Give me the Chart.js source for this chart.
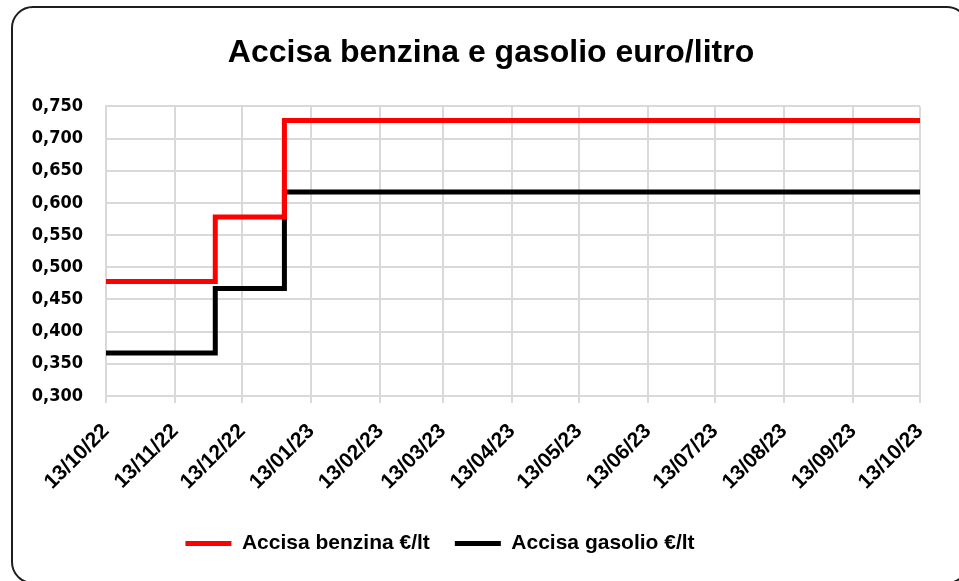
<!DOCTYPE html>
<html>
<head>
<meta charset="utf-8">
<script src="https://cdn.jsdelivr.net/npm/chart.js@4.4.1/dist/chart.umd.min.js"></script>
<style>
    html, body { margin: 0; padding: 0; background: #fff; overflow: hidden; }
    #wrap { position: relative; width: 959px; height: 581px; overflow: hidden; }
    #frame {
        position: absolute; left: 11px; top: 6px; width: 958px; height: 578px;
        border: 2px solid #1e1e1e; border-radius: 22px; box-sizing: border-box;
    }
    #chart { position: absolute; left: 0; top: 0; }
</style>
</head>
<body>
<div id="wrap">
    <div id="frame"></div>
    <canvas id="chart" width="959" height="581"></canvas>
</div>
<script>
// x axis tick labels (13th of every month)
const tickLabels = ['13/10/22', '13/11/22', '13/12/22', '13/01/23', '13/02/23', '13/03/23', '13/04/23',
    '13/05/23', '13/06/23', '13/07/23', '13/08/23', '13/09/23', '13/10/23'];
// dates where the excise changes (plus start and end)
const stepDates = ['13/10/22', '01/12/22', '01/01/23', '13/10/23'];
const benzina = [0.478, 0.578, 0.728, 0.728];
const gasolio = [0.367, 0.467, 0.617, 0.617];

const dayNum = s => {
    const [d, m, y] = s.split('/').map(Number);
    return Date.UTC(2000 + y, m - 1, d) / 86400000;
};
const toPoints = vals => stepDates.map((d, i) => ({ x: dayNum(d), y: vals[i] }));

const bold = (size, family) => ({ family: family || '"Liberation Sans", Arial, sans-serif', size: size, weight: 'bold' });
const gridColor = '#d9d9d9';

// title is centred on the whole frame, legend sits a bit left of centre
const shiftBoxes = {
    id: 'shiftBoxes',
    afterLayout(chart) {
        const move = (box, dx) => { if (box) { box.left += dx; box.right += dx; } };
        move(chart.titleBlock, 21);
        move(chart.legend, -30);
    }
};

new Chart(document.getElementById('chart'), {
    type: 'line',
    data: {
        datasets: [
            { label: 'Accisa benzina €/lt', data: toPoints(benzina), borderColor: '#ff0000', backgroundColor: '#ff0000',
              borderWidth: 5, stepped: true, pointRadius: 0, borderCapStyle: 'round' },
            { label: 'Accisa gasolio €/lt', data: toPoints(gasolio), borderColor: '#000000', backgroundColor: '#000000',
              borderWidth: 5, stepped: true, pointRadius: 0, borderCapStyle: 'round' }
        ]
    },
    options: {
        responsive: false,
        animation: false,
        layout: { padding: { left: 20, right: 39, top: 20, bottom: 17 } },
        plugins: {
            title: {
                display: true, text: 'Accisa benzina e gasolio euro/litro', color: '#000',
                font: bold(32), padding: { top: 14, bottom: 34 }
            },
            legend: {
                position: 'bottom',
                labels: { color: '#000', font: bold(21), usePointStyle: true, pointStyle: 'line',
                          pointStyleWidth: 46, padding: 25 }
            },
            tooltip: { enabled: false }
        },
        scales: {
            x: {
                type: 'linear',
                min: dayNum(tickLabels[0]),
                max: dayNum(tickLabels[tickLabels.length - 1]),
                afterBuildTicks: s => { s.ticks = tickLabels.map(t => ({ value: dayNum(t) })); },
                afterFit: s => { s.height = 112; s.paddingLeft = 0; s.paddingRight = 0; },
                grid: { color: gridColor, lineWidth: 2, tickLength: 7 },
                border: { color: gridColor, width: 2 },
                ticks: {
                    autoSkip: false, maxRotation: 45, minRotation: 45, padding: 16, color: '#000', font: bold(21),
                    callback: v => tickLabels[tickLabels.map(dayNum).indexOf(v)]
                }
            },
            y: {
                min: 0.3, max: 0.75,
                afterFit: s => { s.width = 86; s.paddingTop = 0; s.paddingBottom = 0; },
                grid: { color: gridColor, lineWidth: 2, drawTicks: false },
                border: { color: gridColor, width: 2 },
                ticks: {
                    stepSize: 0.05, padding: 23, color: '#000',
                    font: bold(18, '"DejaVu Sans Condensed", "DejaVu Sans", sans-serif'),
                    callback: v => v.toFixed(3).replace('.', ',')
                }
            }
        }
    },
    plugins: [shiftBoxes]
});
</script>
</body>
</html>
